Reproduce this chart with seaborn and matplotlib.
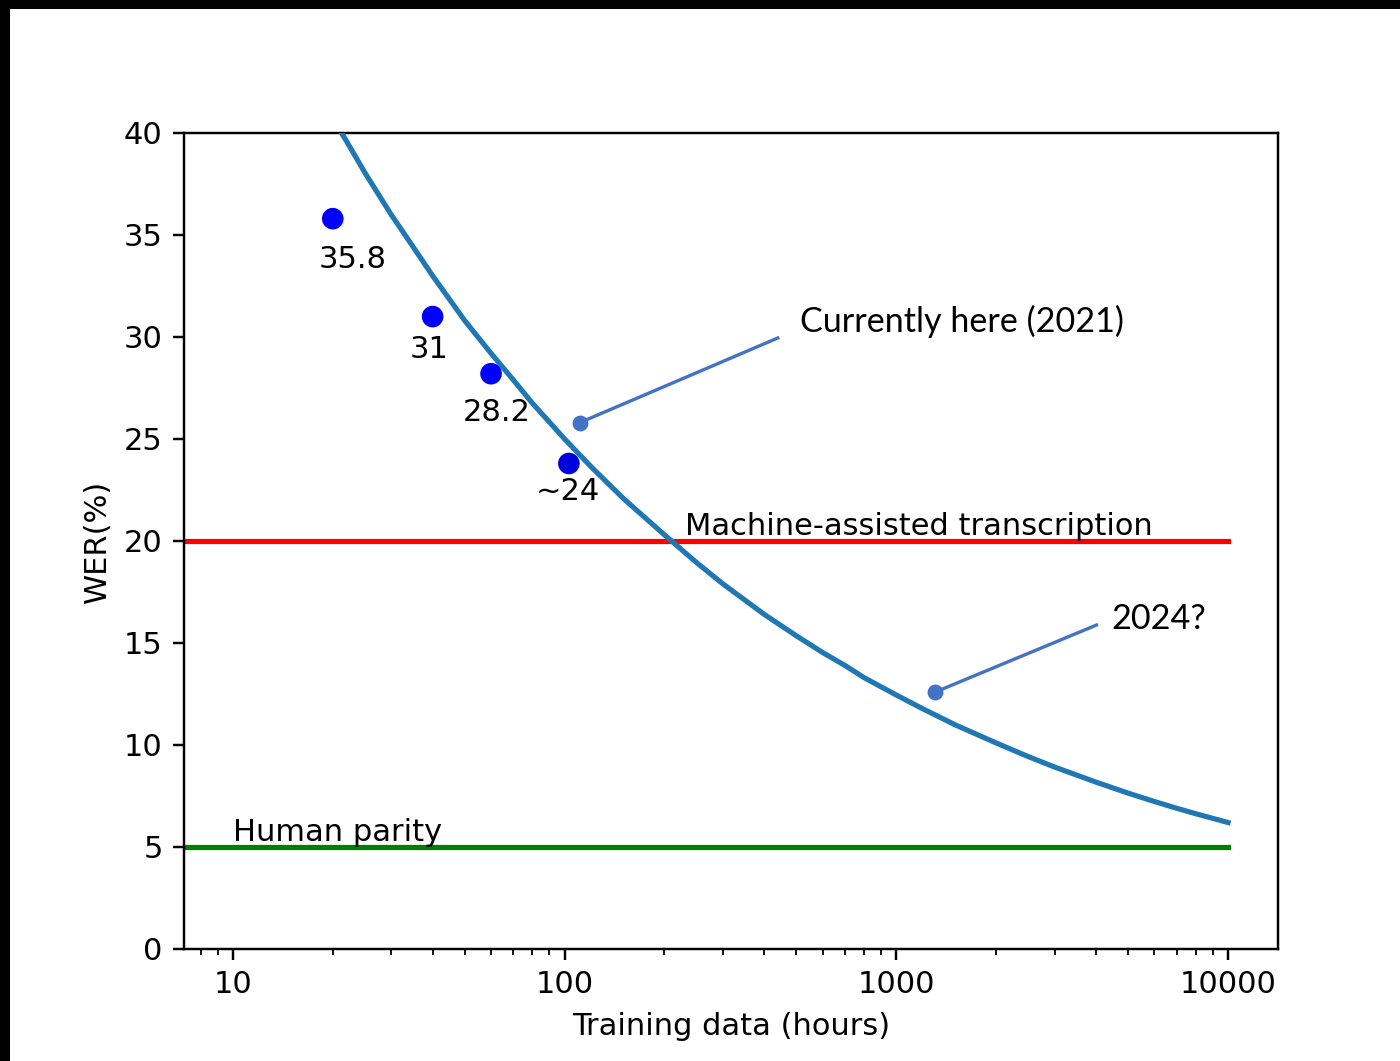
import numpy as np
import pandas as pd
import matplotlib
matplotlib.use("Agg")
import matplotlib.pyplot as plt
import seaborn as sns
from matplotlib.patches import Rectangle
from matplotlib.ticker import FixedLocator, FixedFormatter, LogLocator, NullFormatter

# ---- data ----
curve_hours = [10, 15, 17, 20, 22, 25, 30, 35, 40, 45, 50, 60, 70, 80, 100, 120,
               150, 200, 250, 300, 400, 500, 600, 700, 800, 1000, 1200, 1500,
               2000, 2500, 3000, 4000, 5000, 6000, 7000, 8000, 10000]
curve_wer = [50.2, 44.4, 42.8, 40.7, 39.6, 38.05, 36.0, 34.4, 33.0, 31.84, 30.8,
             29.2, 27.9, 26.75, 25.0, 23.65, 22.1, 20.3, 18.94, 17.9, 16.4, 15.35,
             14.53, 13.9, 13.3, 12.45, 11.78, 11.0, 10.1, 9.43, 8.92, 8.18, 7.64,
             7.23, 6.9, 6.63, 6.2]

point_hours = [20, 40, 60, 103]
point_wer = [35.8, 31.0, 28.2, 23.8]
point_labels = ["35.8", "31", "28.2", "~24"]

human_parity = 5
machine_assisted = 20
hline_range = [1, 10000]

callout_texts = ["Currently here (2021)", "2024?"]
callout_points = [(111, 25.8), (1312, 12.6)]
callout_line_ends = [(439, 29.95), (4013, 15.88)]
callout_text_pos = [(514, 30.78), (4446, 16.2)]

tick_values = [10, 100, 1000, 10000]
tick_labels = ["10", "100", "1000", "10000"]

# ---- figure ----
W, H, DPI = 1400, 1061, 220
fig = plt.figure(figsize=(W / DPI, H / DPI), dpi=DPI)
ax = fig.add_axes([184 / W, 1 - 949 / H, (1278 - 184) / W, (949 - 133) / H])

curve_df = pd.DataFrame({"hours": curve_hours, "wer": curve_wer})
pts_df = pd.DataFrame({"hours": point_hours, "wer": point_wer})

ax.set_xscale("log")
sns.lineplot(data=curve_df, x="hours", y="wer", ax=ax, color="#1f77b4",
             linewidth=1.7, zorder=3)
ax.plot(hline_range, [machine_assisted] * 2, color="red", linewidth=1.7, zorder=2)
ax.plot(hline_range, [human_parity] * 2, color="green", linewidth=1.7, zorder=2)
sns.scatterplot(data=pts_df.iloc[:3], x="hours", y="wer", ax=ax, color="#0000ff",
                s=50, edgecolor="none", zorder=4)
sns.scatterplot(data=pts_df.iloc[3:], x="hours", y="wer", ax=ax, color="#0000dd",
                s=50, edgecolor="none", zorder=4)

label_pos = [(22.9, 33.8), (39, 29.4), (62.5, 26.3), (102, 22.45)]
for (lx, ly), t in zip(label_pos, point_labels):
    ax.text(lx, ly, t, ha="center", va="center", fontsize=10, color="black", zorder=5)

ax.text(230, 20.0, "Machine-assisted transcription", ha="left", va="bottom",
        fontsize=10, zorder=5)
ax.text(10, 5.0, "Human parity", ha="left", va="bottom", fontsize=10, zorder=5)

anno_color = "#4472C4"
for t, p, e, tp in zip(callout_texts, callout_points, callout_line_ends, callout_text_pos):
    ax.plot([p[0], e[0]], [p[1], e[1]], color=anno_color, linewidth=1.1, zorder=6)
    ax.plot([p[0]], [p[1]], marker="o", markersize=5.2, color=anno_color,
            markeredgewidth=0, zorder=6)
    ax.text(tp[0], tp[1], t, ha="left", va="center", fontsize=11.2,
            family=["Lato", "DejaVu Sans"], color="black", zorder=6)

ax.set_xlim(7.12, 14150)
ax.set_ylim(0, 40)
ax.xaxis.set_major_locator(FixedLocator(tick_values))
ax.xaxis.set_major_formatter(FixedFormatter(tick_labels))
ax.xaxis.set_minor_locator(LogLocator(base=10, subs=np.arange(2, 10)))
ax.xaxis.set_minor_formatter(NullFormatter())
ax.set_yticks([0, 5, 10, 15, 20, 25, 30, 35, 40])
ax.set_xlabel("Training data (hours)", fontsize=10)
ax.set_ylabel("WER(%)", fontsize=10)

# black screenshot border (top and left)
fig.add_artist(Rectangle((0, 1 - 7 / H), 1, 7 / H, transform=fig.transFigure,
                         color="black", zorder=10))
fig.add_artist(Rectangle((0, 0), 8 / W, 1, transform=fig.transFigure,
                         color="black", zorder=10))

fig.savefig("out.png", dpi=DPI)
